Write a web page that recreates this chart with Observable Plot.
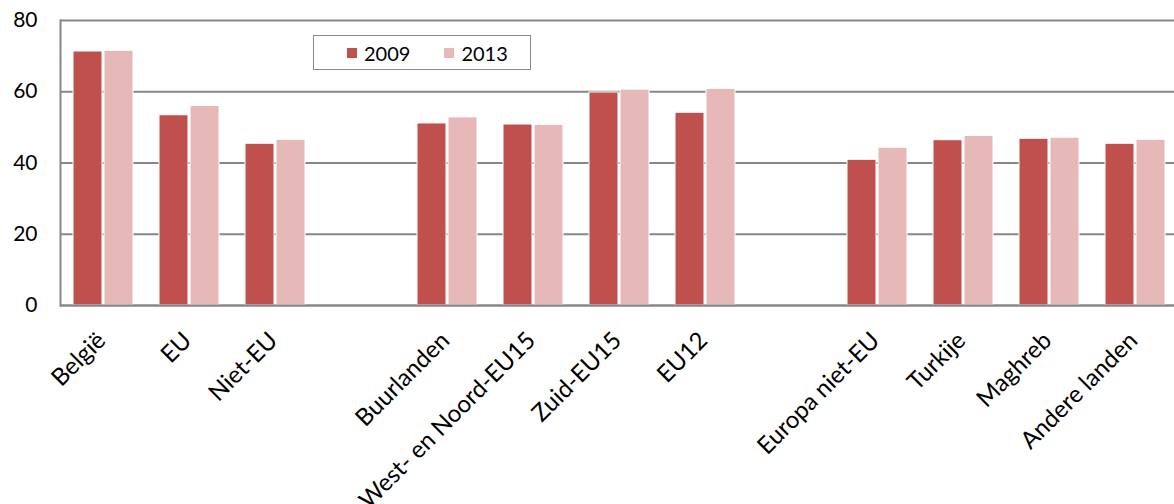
<!DOCTYPE html>
<html>
<head>
<meta charset="utf-8">
<script src="https://cdn.jsdelivr.net/npm/d3@7"></script>
<script src="https://cdn.jsdelivr.net/npm/@observablehq/plot@0.6"></script>
<style>
  html, body { margin: 0; padding: 0; background: #fff; overflow: hidden; }
  #wrap { position: relative; width: 1174px; height: 504px; overflow: hidden; font-family: Lato, "Open Sans", sans-serif; }
  #chart svg { max-width: none !important; display: block; }
  #legend { position: absolute; left: 313px; top: 35px; width: 216px; height: 33px; border: 1.5px solid #8a8a8a; background: #fff;
            display: flex; align-items: center; font-size: 20px; color: #000; }
  #legend .item { display: flex; align-items: center; }
  #legend .sw { width: 10px; height: 10px; display: inline-block; margin-right: 7px; }
</style>
</head>
<body>
<div id="wrap"><div id="chart"></div><div id="legend"></div></div>
<script>
// Categories (with two blank spacer slots between the groups)
const categories = ["België", "EU", "Niet-EU", "_gap1", "Buurlanden", "West- en Noord-EU15", "Zuid-EU15", "EU12", "_gap2", "Europa niet-EU", "Turkije", "Maghreb", "Andere landen"];
const series = ["2009", "2013"];
// null = spacer slot (no bar)
const values2009 = [71.3, 53.4, 45.4, null, 51.1, 50.8, 59.8, 54.1, null, 40.9, 46.4, 46.8, 45.4];
const values2013 = [71.5, 56.0, 46.5, null, 52.8, 50.7, 60.6, 60.8, null, 44.3, 47.6, 47.1, 46.5];
const colors = ["#C0504D", "#E6B9B8"];
const yTicks = [0, 20, 40, 60, 80];

const data = [];
categories.forEach((c, i) => {
  data.push({cat: c, year: series[0], value: values2009[i]});
  data.push({cat: c, year: series[1], value: values2013[i]});
});

const gridColor = "#878787";

const chart = Plot.plot({
  width: 1184,
  height: 504,
  marginLeft: 55,
  marginRight: 2,
  marginTop: 20,
  marginBottom: 199,
  style: {fontFamily: "Lato, 'Open Sans', sans-serif", fontSize: "21px", color: "#000", background: "#fff", maxWidth: "none"},
  facet: {data, x: "cat"},
  fx: {domain: categories, padding: 0, label: null},
  x: {domain: series, paddingInner: 0.05, paddingOuter: 0.4, axis: null},
  y: {domain: [0, 80], label: null},
  color: {domain: series, range: colors},
  marks: [
    Plot.gridY(yTicks, {stroke: gridColor, strokeOpacity: 1, strokeWidth: 2}),
    Plot.frame({anchor: "left", facetAnchor: "left", stroke: gridColor, strokeWidth: 2}),
    Plot.barY(data, {x: "year", y: "value", fill: "year", stroke: "white", strokeWidth: 1}),
    Plot.ruleY([0], {stroke: gridColor, strokeWidth: 2}),
    Plot.axisY(yTicks, {tickSize: 0, tickPadding: 23, fontSize: 21, label: null}),
    Plot.axisFx({
      anchor: "bottom", tickRotate: -45, tickSize: 0, tickPadding: 31, dx: -2, fontSize: 24, label: null,
      tickFormat: d => d.startsWith("_") ? "" : d
    })
  ]
});
document.getElementById("chart").appendChild(chart);

// Legend built from the same series/colors
const legend = document.getElementById("legend");
series.forEach((s, i) => {
  const item = document.createElement("div");
  item.className = "item";
  item.style.marginLeft = i === 0 ? "33px" : "34px";
  const sw = document.createElement("span");
  sw.className = "sw";
  sw.style.background = colors[i];
  item.appendChild(sw);
  item.appendChild(document.createTextNode(s));
  legend.appendChild(item);
});
</script>
</body>
</html>
